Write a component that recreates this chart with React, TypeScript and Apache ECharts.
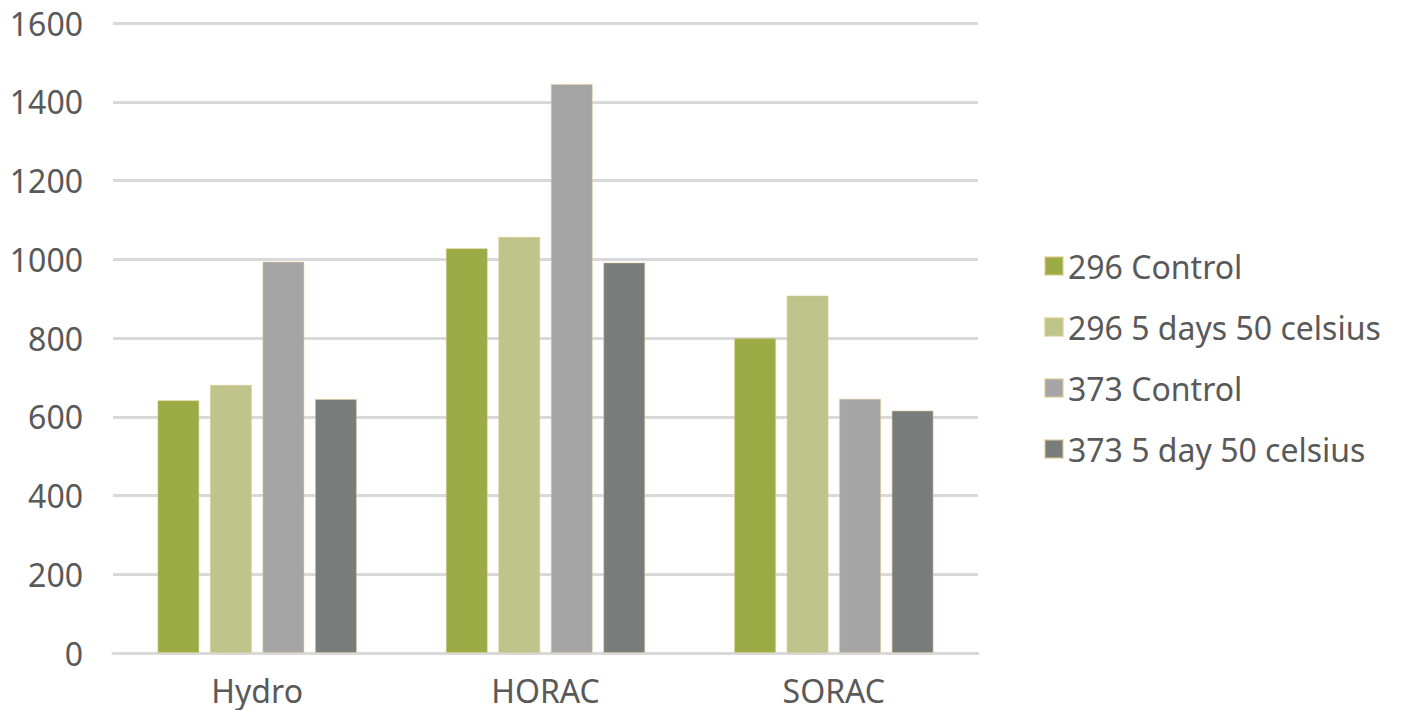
import React, { useEffect, useRef } from "react";
import * as echarts from "echarts";

const categories = ["Hydro", "HORAC", "SORAC"];
const seriesNames = ["296 Control", "296 5 days 50 celsius", "373 Control", "373 5 day 50 celsius"];
const control296 = [642, 1028, 800];
const heated296 = [681, 1057, 908];
const control373 = [994, 1445, 646];
const heated373 = [645, 992, 616];
const colors = ["#9BAB45", "#BFC48A", "#A5A5A5", "#787D7C"];

export default function App() {
  const ref = useRef<HTMLDivElement>(null);
  useEffect(() => {
    document.body.style.margin = "0";
    const chart = echarts.init(ref.current!, undefined, { renderer: "svg" });
    const values = [control296, heated296, control373, heated373];
    const font = "'Noto Sans', sans-serif";
    chart.setOption({
      animation: false,
      backgroundColor: "#ffffff",
      grid: { left: 113, right: 428, top: 23, bottom: 57, containLabel: false },
      legend: {
        orient: "vertical",
        left: 1039,
        top: 245,
        itemWidth: 18,
        itemHeight: 18,
        itemGap: 29,
        icon: "rect",
        textStyle: { fontFamily: font, fontSize: 32, lineHeight: 32, color: "#595959" },
        data: seriesNames,
      },
      xAxis: {
        type: "category",
        data: categories,
        axisLine: { lineStyle: { color: "#d9d9d9", width: 3 } },
        axisTick: { show: false },
        axisLabel: { fontFamily: font, fontSize: 32, lineHeight: 32, color: "#595959", margin: 21 },
      },
      yAxis: {
        type: "value",
        min: 0,
        max: 1600,
        interval: 200,
        axisLine: { show: false },
        axisTick: { show: false },
        splitLine: { lineStyle: { color: "#d9d9d9", width: 3 } },
        axisLabel: {
          fontFamily: font,
          fontSize: 32,
          color: "#595959",
          margin: 30,
          formatter: (v: number) => String(v),
        },
      },
      series: seriesNames.map((name, i) => ({
        name,
        type: "bar",
        data: values[i],
        barWidth: 42,
        barGap: "25%",
        itemStyle: { color: colors[i], borderColor: "rgba(225,200,140,0.55)", borderWidth: 1 },
      })),
    });
    return () => chart.dispose();
  }, []);
  return <div ref={ref} style={{ width: 1406, height: 710 }} />;
}
